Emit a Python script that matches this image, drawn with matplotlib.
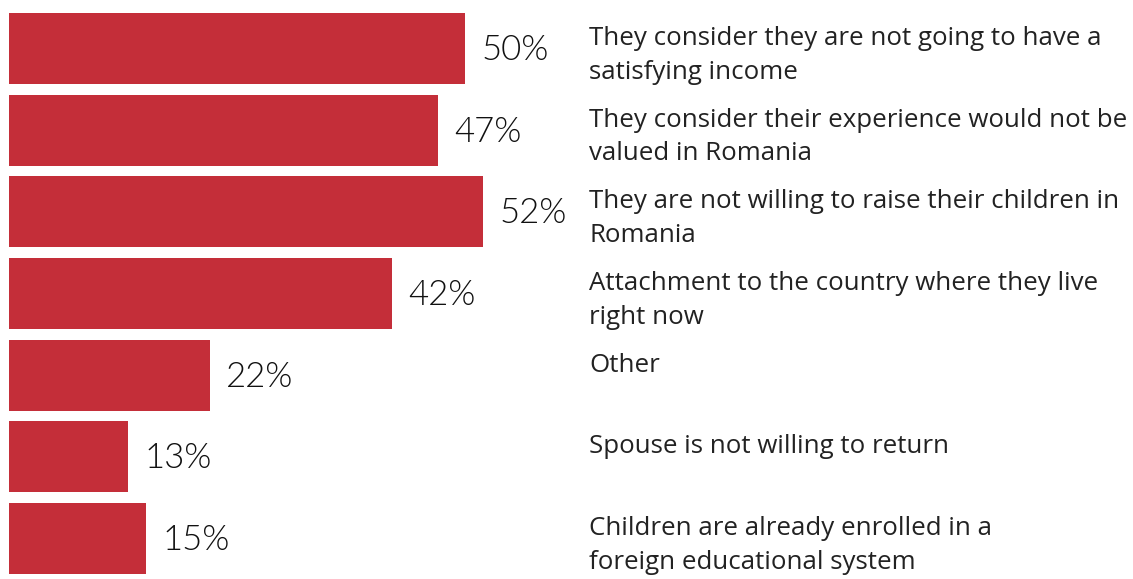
import matplotlib.pyplot as plt
from matplotlib import font_manager

reasons = [
    "They consider they are not going to have a\nsatisfying income",
    "They consider their experience would not be\nvalued in Romania",
    "They are not willing to raise their children in\nRomania",
    "Attachment to the country where they live\nright now",
    "Other",
    "Spouse is not willing to return",
    "Children are already enrolled in a\nforeign educational system",
]
shares = [50, 47, 52, 42, 22, 13, 15]

red = "#C42E39"
names = {f.name for f in font_manager.fontManager.ttflist}
text_font = "Open Sans" if "Open Sans" in names else "DejaVu Sans"
pct_font = "Lato" if "Lato" in names else "DejaVu Sans"

fig = plt.figure(figsize=(11.33, 5.79), dpi=100)
ax = fig.add_axes([9 / 1133, 0, 1124 / 1133, 1])

pos = list(range(len(shares)))
ax.barh(pos, shares, height=0.87, color=red)
ax.set_xlim(0, 1124 / 9.12)
ax.set_ylim(6.496, -0.594)
ax.axis("off")

for i, (v, txt) in enumerate(zip(shares, reasons)):
    ax.text(v + 1.8, i + 0.02, f"{v}%", va="center", ha="left",
            fontsize=25, fontfamily=pct_font, fontweight=300, color="#111111")
    ax.text(63.6, i - 0.435 + 0.16, txt, va="top", ha="left",
            fontsize=18.6, fontfamily=text_font, color="#222222", linespacing=1.45)

fig.savefig("out.png", dpi=100)
